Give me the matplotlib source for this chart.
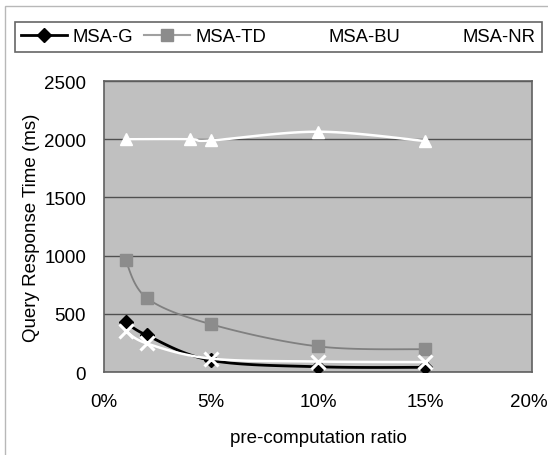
import numpy as np
import matplotlib.pyplot as plt
from matplotlib.patches import Rectangle
from matplotlib.transforms import ScaledTranslation

plt.rcParams['font.family'] = ['Liberation Sans', 'DejaVu Sans']

# data (x in %, y in ms)
x_g = [1, 2, 5, 10, 15]
y_g = [430, 315, 100, 45, 40]
x_td = [1, 2, 5, 10, 15]
y_td = [960, 635, 410, 220, 195]
x_bu = [1, 2, 5, 10, 15]
y_bu = [355, 245, 115, 90, 85]
x_nr = [1, 4, 5, 10, 15]
y_nr = [2000, 2000, 1990, 2065, 1985]
xticks = [0, 5, 10, 15, 20]
xticklabels = ['0%', '5%', '10%', '15%', '20%']
yticks = [0, 500, 1000, 1500, 2000, 2500]


#smooth line like Excel (Catmull-Rom through the points)
def smooth(x, y, n=20):
	p = np.column_stack([x, y]).astype(float)
	p = np.vstack([p[0], p, p[-1]])
	out = []
	for i in range(1, len(p) - 2):
		p0, p1, p2, p3 = p[i-1], p[i], p[i+1], p[i+2]
		t = np.linspace(0, 1, n)[:, None]
		c = 0.5*((2*p1) + (-p0 + p2)*t + (2*p0 - 5*p1 + 4*p2 - p3)*t**2
			+ (-p0 + 3*p1 - 3*p2 + p3)*t**3)
		out.append(c)
	c = np.vstack(out)
	return c[:, 0], c[:, 1]


fig = plt.figure(figsize=(5.48, 4.56), dpi=100)
fig.patches.append(Rectangle((0.009, -0.1), 1.1, 1.085, transform=fig.transFigure,
	fill=False, edgecolor='#b8b8b8', lw=1))
ax = fig.add_axes([0.190, 0.182, 0.781, 0.638])
ax.set_facecolor('#c0c0c0')

ax.plot(*smooth(x_nr, y_nr), color='white', lw=1.8, zorder=3)
ax.plot(x_nr, y_nr, ls='none', marker='^', ms=9, color='white', zorder=4)

ax.plot(*smooth(x_td, y_td), color='#808080', lw=1.3, zorder=3)
ax.plot(x_td, y_td, ls='none', marker='s', ms=9, color='#8c8c8c', zorder=4)

ax.plot(*smooth(x_g, y_g), color='black', lw=2, zorder=3)
ax.plot(x_g, y_g, ls='none', marker='D', ms=7, color='black', zorder=4)

ax.plot(*smooth(x_bu, y_bu), color='white', lw=1.8, zorder=5)
ax.plot(x_bu, y_bu, ls='none', marker='x', ms=10, mew=2.2, color='white', zorder=6)

ax.set_xlim(0, 20)
ax.set_ylim(0, 2500)
ax.set_xticks(xticks)
ax.set_xticklabels(xticklabels)
ax.set_yticks(yticks)
ax.grid(axis='y', color='#505050', lw=1)
ax.set_axisbelow(True)
ax.tick_params(labelsize=13.5, length=0)
ax.tick_params(axis='x', pad=15)
ax.tick_params(axis='y', pad=13)
for s in ax.spines.values():
	s.set_color('#606060')
	s.set_linewidth(1.2)
# keep the last tick label inside the picture
last = ax.get_xticklabels()[-1]
last.set_transform(last.get_transform() + ScaledTranslation(-3/100, 0, fig.dpi_scale_trans))

ax.set_ylabel('Query Response Time (ms)', fontsize=13.5, labelpad=3)
ax.set_xlabel('pre-computation ratio', fontsize=13.5, labelpad=14)

#legend (white markers vanish on white, as in the original)
h1, = ax.plot([], [], color='black', lw=2, marker='D', ms=7)
h2, = ax.plot([], [], color='#a0a0a0', lw=1.5, marker='s', ms=9, mfc='#8c8c8c', mec='#8c8c8c')
h3, = ax.plot([], [], color='white', lw=1.5, marker='x', ms=9)
h4, = ax.plot([], [], color='white', lw=1.5, marker='^', ms=9)
leg = fig.legend([h1, h2, h3, h4], ['MSA-G', 'MSA-TD', 'MSA-BU', 'MSA-NR'],
	loc='upper left', bbox_to_anchor=(0.027, 0.95), ncol=4, fontsize=13.3,
	frameon=True, fancybox=False, edgecolor='#404040', handlelength=2.5,
	handletextpad=0.27, columnspacing=0.6, borderpad=0.35, borderaxespad=0)
leg.get_frame().set_linewidth(1.2)

plt.savefig('out.png', dpi=100)
